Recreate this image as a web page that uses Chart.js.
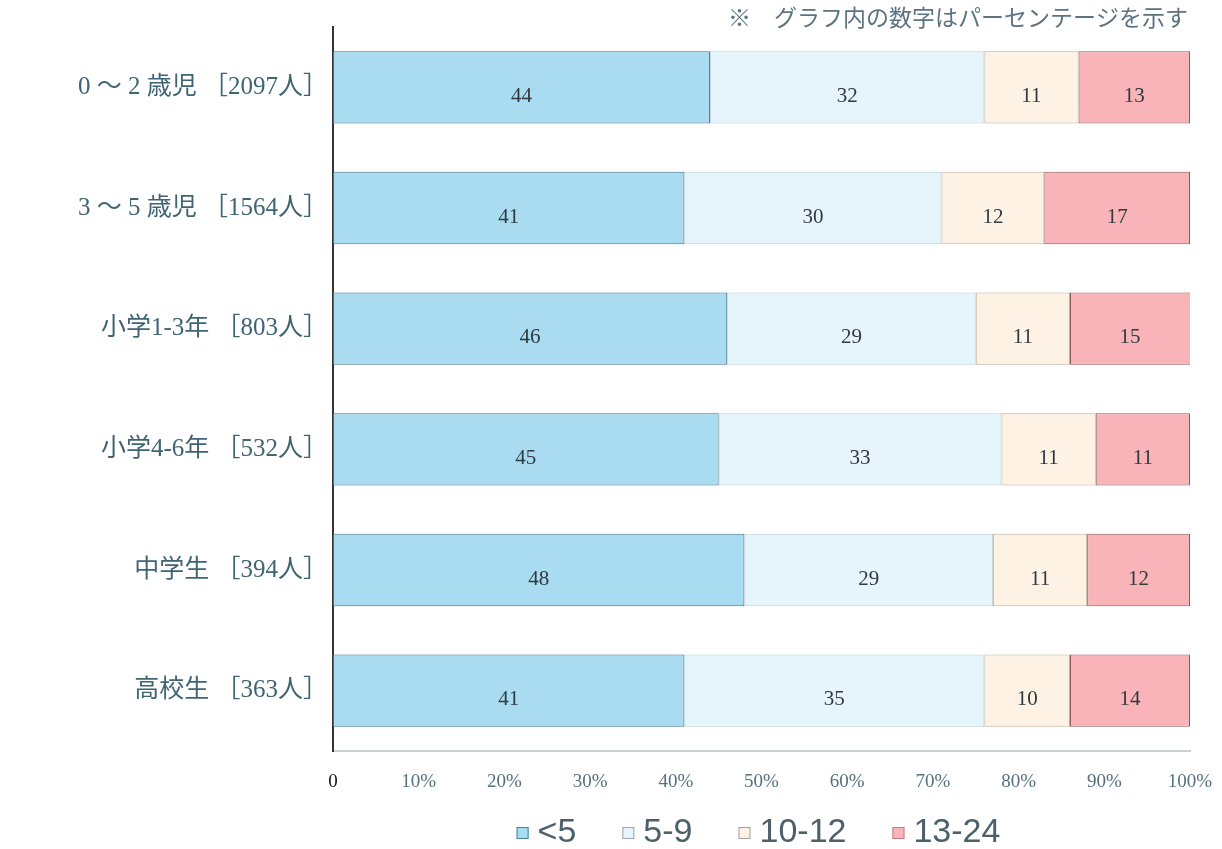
<!DOCTYPE html>
<html lang="ja">
<head>
<meta charset="utf-8">
<title>年齢層別 割合</title>
<script src="https://cdn.jsdelivr.net/npm/chart.js@4.4.1/dist/chart.umd.min.js"></script>
<style>
  html, body { margin: 0; padding: 0; background: #fff; }
  #wrap { width: 1222px; height: 849px; }
</style>
</head>
<body>
<div id="wrap"><canvas id="chart" width="1222" height="849"></canvas></div>
<script>
// 区分（縦軸）
var categories = [
  '0 ～ 2 歳児 ［2097人］',
  '3 ～ 5 歳児 ［1564人］',
  '小学1-3年 ［803人］',
  '小学4-6年 ［532人］',
  '中学生 ［394人］',
  '高校生 ［363人］'
];

// 系列名
var seriesNames = ['<5', '5-9', '10-12', '13-24'];

// 各区分の割合（%）
var under5   = [44, 41, 46, 45, 48, 41];
var from5to9 = [32, 30, 29, 33, 29, 35];
var from10   = [11, 12, 11, 11, 11, 10];
var from13   = [13, 17, 15, 11, 12, 14];

var xTicks = [0, 10, 20, 30, 40, 50, 60, 70, 80, 90, 100];

var noteText = '※　グラフ内の数字はパーセンテージを示す';

var fills   = ['#a9dcf1', '#e6f5fb', '#fdf2e4', '#f8b4b8'];
var borders = ['#3f7088', '#bccdd4', '#bdae9c', '#8e5858'];

var serif = "'Liberation Serif', 'Noto Sans CJK JP', serif";

// 棒の中に数値を描く
var valueLabels = {
  id: 'valueLabels',
  afterDatasetsDraw: function(chart) {
    var ctx = chart.ctx;
    ctx.save();
    ctx.font = '21px ' + serif;
    ctx.fillStyle = '#2e3a40';
    ctx.textAlign = 'center';
    ctx.textBaseline = 'middle';
    chart.data.datasets.forEach(function(ds, di) {
      var meta = chart.getDatasetMeta(di);
      meta.data.forEach(function(bar, i) {
        var right = Math.min(bar.x, chart.chartArea.right);
        var cx = (bar.base + right) / 2;
        ctx.fillText(String(ds.data[i]), cx, bar.y + 9);
      });
    });
    ctx.restore();
  }
};

// 右上の注記と下部の凡例
var noteAndLegend = {
  id: 'noteAndLegend',
  afterDraw: function(chart) {
    var ctx = chart.ctx;
    var area = chart.chartArea;
    ctx.save();

    ctx.font = '23px ' + serif;
    ctx.fillStyle = '#5d7380';
    ctx.textAlign = 'right';
    ctx.textBaseline = 'middle';
    ctx.fillText(noteText, area.right - 2, 20);

    ctx.font = "34px 'Liberation Sans', sans-serif";
    ctx.textBaseline = 'middle';
    ctx.textAlign = 'left';
    var box = 12, gapBox = 9, gapItem = 46;
    var widths = seriesNames.map(function(n) { return ctx.measureText(n).width; });
    var total = 0;
    widths.forEach(function(w, i) {
      total += box + gapBox + w + (i < widths.length - 1 ? gapItem : 0);
    });
    var x = (area.left + area.right) / 2 - total / 2 - 3;
    var y = 833;
    seriesNames.forEach(function(n, i) {
      ctx.fillStyle = fills[i];
      ctx.fillRect(x, y - box / 2, box, box);
      ctx.strokeStyle = i === 0 ? '#4a7f96' : (i === 3 ? '#c77b82' : '#9aa4a8');
      ctx.lineWidth = 1;
      ctx.strokeRect(x + 0.5, y - box / 2 + 0.5, box - 1, box - 1);
      ctx.fillStyle = '#4c606b';
      ctx.fillText(n, x + box + gapBox, y);
      x += box + gapBox + widths[i] + gapItem;
    });
    ctx.restore();
  }
};

var seriesData = [under5, from5to9, from10, from13];

new Chart(document.getElementById('chart').getContext('2d'), {
  type: 'bar',
  data: {
    labels: categories,
    datasets: seriesData.map(function(values, i) {
      return {
        label: seriesNames[i],
        data: values,
        backgroundColor: fills[i],
        borderColor: borders[i],
        borderWidth: 1,
        borderSkipped: false,
        barPercentage: 0.6,
        categoryPercentage: 1.0
      };
    })
  },
  options: {
    indexAxis: 'y',
    responsive: false,
    animation: false,
    layout: { padding: { top: 27, right: 32, left: 0, bottom: 0 } },
    scales: {
      x: {
        stacked: true,
        min: 0,
        max: 100,
        afterBuildTicks: function(scale) {
          scale.ticks = xTicks.map(function(v) { return { value: v }; });
        },
        afterFit: function(scale) {
          scale.height = 98;
          scale.paddingLeft = 0;
          scale.paddingRight = 0;
        },
        grid: { display: false, drawTicks: false },
        border: { display: true, color: '#c9cfd2', width: 2 },
        ticks: {
          padding: 20,
          maxRotation: 0,
          autoSkip: false,
          font: { family: serif, size: 19 },
          color: function(c) { return c.index === 0 ? '#111' : '#55707e'; },
          callback: function(v) { return v === 0 ? '0' : v + '%'; }
        }
      },
      y: {
        stacked: true,
        afterFit: function(scale) { scale.width = 333; },
        grid: { display: false, drawTicks: false },
        border: { display: true, color: '#333', width: 2 },
        ticks: {
          padding: 5,
          font: { family: serif, size: 25 },
          color: '#3f6473'
        }
      }
    },
    plugins: {
      legend: { display: false },
      tooltip: { enabled: false }
    }
  },
  plugins: [valueLabels, noteAndLegend]
});
</script>
</body>
</html>
